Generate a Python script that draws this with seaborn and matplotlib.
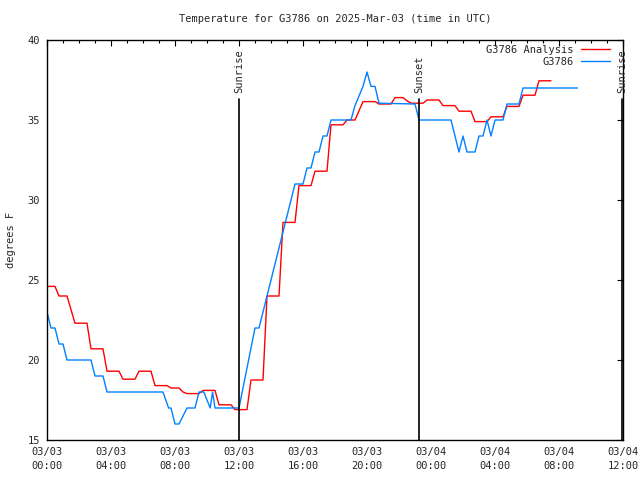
import numpy as np
import pandas as pd
import matplotlib
matplotlib.use("Agg")
import matplotlib.pyplot as plt
import matplotlib.transforms as mtransforms
from matplotlib.ticker import MultipleLocator, FixedLocator, FixedFormatter
import seaborn as sns

# ---- data (hours since 2025-03-03 00:00 UTC, degrees F) ----
analysis_hours = [0, 0.5, 0.75, 1.25, 1.75, 2.5, 2.75, 3.5, 3.75, 4.5, 4.75, 5.5, 5.75, 6.5,
                  6.75, 7.5, 7.75, 8.25, 8.5, 8.75, 9.5, 9.75, 10.5, 10.75, 11.5, 11.75, 12.5,
                  12.75, 13.5, 13.75, 14.5, 14.75, 15.5, 15.75, 16.5, 16.75, 17.5, 17.75, 18.5,
                  18.75, 19.25, 19.75, 20.5, 20.75, 21.5, 21.75, 22.25, 22.5, 22.75, 23.5, 23.75,
                  24.5, 24.75, 25.5, 25.75, 26.5, 26.75, 27.5, 27.75, 28.5, 28.75, 29.5, 29.75,
                  30.5, 30.75, 31.5]
analysis_temp = [24.6, 24.6, 24.0, 24.0, 22.3, 22.3, 20.7, 20.7, 19.3, 19.3, 18.8, 18.8, 19.3, 19.3,
                 18.4, 18.4, 18.25, 18.25, 18.0, 17.9, 17.9, 18.1, 18.1, 17.2, 17.2, 16.9, 16.9,
                 18.75, 18.75, 24.0, 24.0, 28.6, 28.6, 30.9, 30.9, 31.8, 31.8, 34.7, 34.7,
                 35.0, 35.0, 36.15, 36.15, 36.0, 36.0, 36.4, 36.4, 36.2, 36.05, 36.05, 36.25,
                 36.25, 35.9, 35.9, 35.55, 35.55, 34.9, 34.9, 35.2, 35.2, 35.85, 35.85, 36.55,
                 36.55, 37.45, 37.45]

obs_hours = [0, 0.25, 0.5, 0.75, 1.0, 1.25, 2.75, 3.0, 3.5, 3.75, 7.25, 7.6, 7.75, 8.0, 8.25,
             8.75, 9.25, 9.5, 9.8, 10.2, 10.35, 10.5, 12.0, 13.0, 13.25, 15.5, 16.0, 16.25,
             16.5, 16.75, 17.0, 17.25, 17.5, 17.75, 19.0, 19.25, 19.5, 19.75, 20.0, 20.25,
             20.5, 20.75, 23.0, 23.25, 25.25, 25.75, 26.0, 26.25, 26.75, 27.0, 27.25, 27.5,
             27.75, 28.0, 28.5, 28.75, 29.5, 29.75, 33.15]
obs_temp = [23.0, 22.0, 22.0, 21.0, 21.0, 20.0, 20.0, 19.0, 19.0, 18.0, 18.0, 17.0, 17.0, 16.0, 16.0,
            17.0, 17.0, 18.0, 18.0, 17.0, 18.0, 17.0, 17.0, 22.0, 22.0, 31.0, 31.0, 32.0,
            32.0, 33.0, 33.0, 34.0, 34.0, 35.0, 35.0, 35.9, 36.5, 37.1, 38.0, 37.1,
            37.1, 36.05, 36.0, 35.0, 35.0, 33.0, 34.0, 33.0, 33.0, 34.0, 34.0, 35.0,
            34.0, 35.0, 35.0, 36.0, 36.0, 37.0, 37.0]

sun_hours = [12.0, 23.25, 35.95]
sun_labels = ["Sunrise", "Sunset", "Sunrise"]

tick_hours = [0, 4, 8, 12, 16, 20, 24, 28, 32, 36]
tick_labels = ["03/03\n00:00", "03/03\n04:00", "03/03\n08:00", "03/03\n12:00", "03/03\n16:00",
               "03/03\n20:00", "03/04\n00:00", "03/04\n04:00", "03/04\n08:00", "03/04\n12:00"]

series_names = ["G3786 Analysis", "G3786"]
series_colors = ["#ff0000", "#0080ff"]

title = "Temperature for G3786 on 2025-Mar-03 (time in UTC)"

# ---- style ----
sns.set_style("white")
plt.rcParams["font.family"] = ["DejaVu Sans Mono"]
FS = 7.5

fig = plt.figure(figsize=(6.4, 4.8), dpi=100)
ax = fig.add_axes([47 / 640, 40 / 480, 576 / 640, 400 / 480])

df_a = pd.DataFrame({"hours": analysis_hours, "temp": analysis_temp})
df_o = pd.DataFrame({"hours": obs_hours, "temp": obs_temp})
sns.lineplot(data=df_a, x="hours", y="temp", color=series_colors[0], lw=1.0,
             estimator=None, sort=False, label=series_names[0], ax=ax)
sns.lineplot(data=df_o, x="hours", y="temp", color=series_colors[1], lw=1.0,
             estimator=None, sort=False, label=series_names[1], ax=ax)

ax.set_xlim(0, 36)
ax.set_ylim(15, 40)

line_top = (440 - 99) / 400
text_y = (440 - 93) / 400
trans = mtransforms.blended_transform_factory(ax.transData, ax.transAxes)
for h, lab in zip(sun_hours, sun_labels):
    ax.axvline(h, ymin=0, ymax=line_top, color="black", lw=1.2)
    ax.text(h, text_y, lab, rotation=90, ha="center", va="bottom", fontsize=FS,
            transform=trans, clip_on=False)

ax.xaxis.set_major_locator(FixedLocator(tick_hours))
ax.xaxis.set_major_formatter(FixedFormatter(tick_labels))
ax.xaxis.set_minor_locator(MultipleLocator(1))
ax.yaxis.set_major_locator(MultipleLocator(5))
ax.tick_params(axis="both", which="both", direction="in", top=True, right=True,
               color="black", labelsize=FS, width=0.8)
ax.tick_params(axis="both", which="major", length=4.5, pad=5)
ax.tick_params(axis="x", which="minor", length=2.5)
for t in ax.get_xticklabels():
    t.set_linespacing(1.5)

for s in ax.spines.values():
    s.set_color("black")
    s.set_linewidth(1.0)

ax.set_xlabel("")
ax.set_ylabel("degrees F", fontsize=FS)
ax.yaxis.set_label_coords((16 - 47) / 576, 0.5)
ax.set_title(title, fontsize=FS, pad=13)

ax.legend(loc="upper right", bbox_to_anchor=((610 - 47) / 576, (440 - 45) / 400),
          frameon=False, markerfirst=False, fontsize=FS, handlelength=2.8,
          handletextpad=0.7, labelspacing=0.15, borderpad=0, borderaxespad=0)

fig.savefig("out.png", dpi=100)
